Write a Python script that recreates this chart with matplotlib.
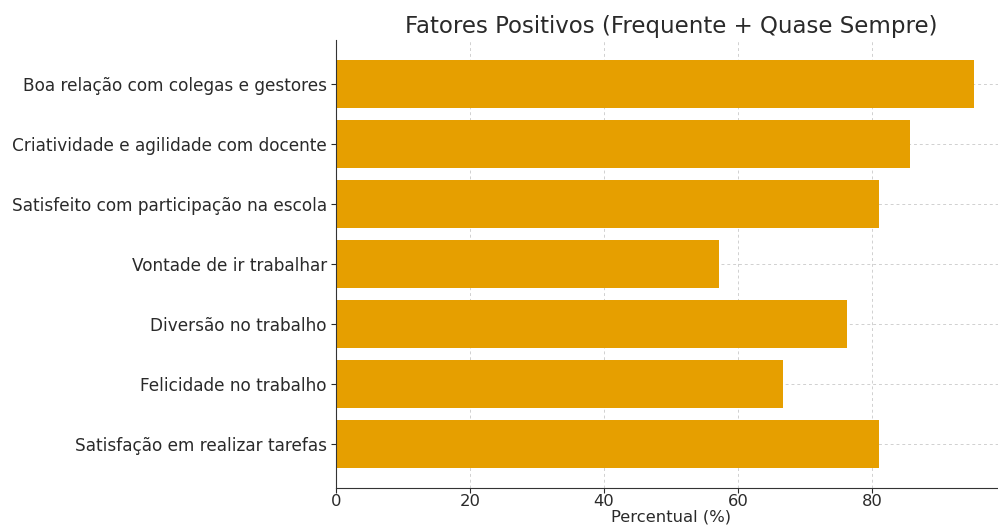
import matplotlib
matplotlib.use("Agg")
import matplotlib.pyplot as plt

categories = [
    "Boa relação com colegas e gestores",
    "Criatividade e agilidade com docente",
    "Satisfeito com participação na escola",
    "Vontade de ir trabalhar",
    "Diversão no trabalho",
    "Felicidade no trabalho",
    "Satisfação em realizar tarefas",
]
values = [95.2, 85.7, 81.0, 57.1, 76.2, 66.7, 81.0]

W, H = 998, 525
fig = plt.figure(figsize=(W / 100, H / 100), dpi=100)
left, right = 336, 1006
top, bottom = 40, 488
ax = fig.add_axes([left / W, 1 - bottom / H, (right - left) / W, (bottom - top) / H])

pos = list(range(len(categories)))[::-1]
ax.barh(pos, values, height=0.8, color="#E69F00", zorder=2)
ax.set_yticks(pos)
ax.set_yticklabels(categories, fontsize=12.2, color="#2a2a2a")
ax.set_xticks([0, 20, 40, 60, 80])
ax.tick_params(axis="x", labelsize=11.8, colors="#2a2a2a", length=3.5, pad=0.5)
ax.tick_params(axis="y", colors="#2a2a2a", length=3.5, pad=3)
ax.grid(True, linestyle=(0, (3, 3)), color="#d0d0d0", linewidth=0.7, zorder=0)
ax.set_axisbelow(True)
for s in ["top", "right"]:
    ax.spines[s].set_visible(False)
for s in ["left", "bottom"]:
    ax.spines[s].set_color("#333333")
ax.set_xlabel("Percentual (%)", fontsize=11.8, color="#2a2a2a")
ax.xaxis.set_label_coords(0.5, -(510 - bottom) / (bottom - top))
ax.set_title("Fatores Positivos (Frequente + Quase Sempre)", fontsize=16.5, color="#2a2a2a", pad=5)

fig.savefig("out.png", dpi=100)
